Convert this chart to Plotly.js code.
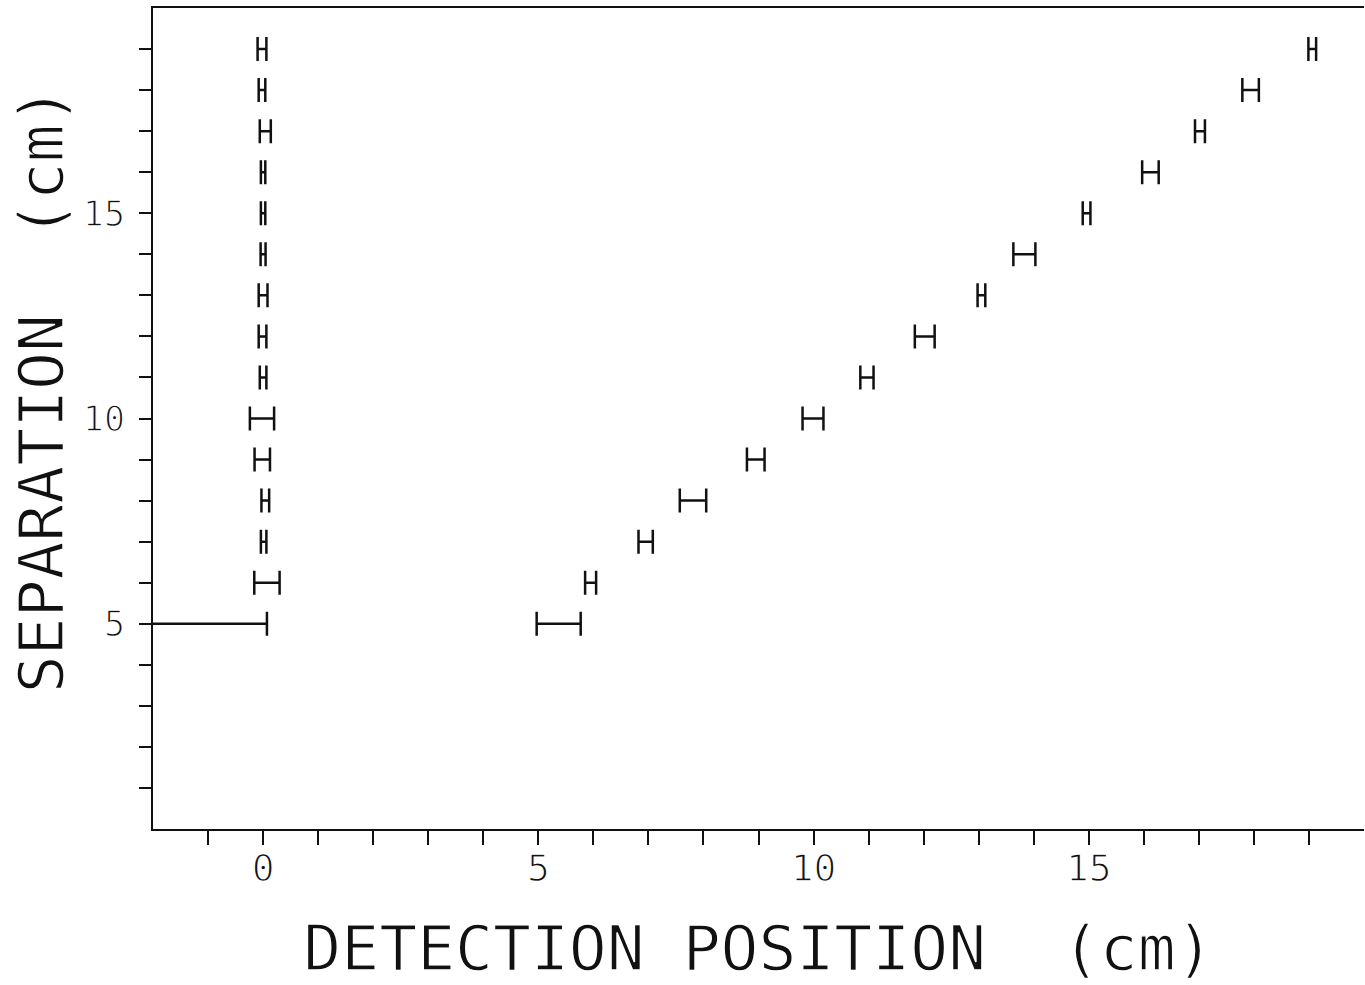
<!DOCTYPE html>
<html>
<head>
<meta charset="utf-8">
<script src="https://cdn.plot.ly/plotly-3.0.1.min.js"></script>
<style>
  html, body { margin: 0; padding: 0; background: #fff; }
  #plot { width: 1365px; height: 985px; }
  /* thin the glyph strokes for a pen-plotter look */
  #plot text { stroke: #fff; stroke-width: 1.4px; }
</style>
</head>
<body>
<div id="plot"></div>
<script>
// Separation values (cm), one per measured pair
const separation = [5, 6, 7, 8, 9, 10, 11, 12, 13, 14, 15, 16, 17, 18, 19];

// Detected position of the fixed source (cm) and its half-spread
const fixedPos    = [-1.23, 0.07, 0.01, 0.04, -0.015, -0.02, 0.00, -0.01, 0.00, 0.00, 0.00, 0.00, 0.04, -0.02, -0.02];
const fixedSpread = [1.30, 0.23, 0.05, 0.07, 0.14, 0.22, 0.06, 0.07, 0.08, 0.045, 0.04, 0.04, 0.10, 0.06, 0.08];

// Detected position of the moving source (cm) and its half-spread
const movingPos    = [5.37, 5.95, 6.95, 7.81, 8.95, 9.99, 10.97, 12.02, 13.05, 13.83, 14.96, 16.12, 17.02, 17.94, 19.06];
const movingSpread = [0.40, 0.10, 0.13, 0.24, 0.16, 0.19, 0.12, 0.18, 0.07, 0.20, 0.07, 0.15, 0.09, 0.15, 0.07];

// Labelled ticks
const xTickVals = [0, 5, 10, 15];
const yTickVals = [5, 10, 15];

const xTitle = 'DETECTION POSITION\u00a0\u00a0(cm)';
const yTitle = 'SEPARATION\u00a0\u00a0(cm)';

const ink = '#111';
const font = 'DejaVu Sans Mono, monospace';

function minorTicks(lo, hi) {
  const out = [];
  for (let v = lo; v <= hi; v++) out.push(v);
  return out;
}

function hBars(xs, spreads) {
  return {
    type: 'scatter',
    mode: 'markers',
    x: xs,
    y: separation,
    cliponaxis: false,
    hoverinfo: 'skip',
    showlegend: false,
    marker: { size: 1, color: 'rgba(0,0,0,0)' },
    error_x: {
      type: 'data',
      array: spreads,
      visible: true,
      color: ink,
      thickness: 2.5,
      width: 12
    }
  };
}

const data = [hBars(fixedPos, fixedSpread), hBars(movingPos, movingSpread)];

const layout = {
  width: 1365,
  height: 985,
  margin: { l: 153, r: 1, t: 8, b: 156 },
  paper_bgcolor: '#fff',
  plot_bgcolor: '#fff',
  showlegend: false,
  font: { family: font, color: ink },
  xaxis: {
    range: [-2, 20],
    showgrid: false,
    zeroline: false,
    showline: true,
    linecolor: ink,
    linewidth: 2,
    mirror: true,
    ticks: 'outside',
    ticklen: 14,
    tickwidth: 2,
    tickcolor: ink,
    tickmode: 'array',
    tickvals: xTickVals,
    ticktext: xTickVals.map(String),
    tickfont: { family: font, size: 38, color: ink },
    ticklabelstandoff: -10,
    minor: {
      tickmode: 'array',
      tickvals: minorTicks(-1, 19),
      ticks: 'outside',
      ticklen: 14,
      tickwidth: 2,
      tickcolor: ink,
      showgrid: false
    },
    title: {
      text: xTitle,
      font: { family: font, size: 63, color: ink },
      standoff: 57
    }
  },
  yaxis: {
    range: [0, 20],
    showgrid: false,
    zeroline: false,
    showline: true,
    linecolor: ink,
    linewidth: 2,
    ticks: 'outside',
    ticklen: 12,
    tickwidth: 2,
    tickcolor: ink,
    tickmode: 'array',
    tickvals: yTickVals,
    ticktext: yTickVals.map(String),
    tickfont: { family: font, size: 35, color: ink },
    ticklabelstandoff: 7,
    minor: {
      tickmode: 'array',
      tickvals: minorTicks(1, 19),
      ticks: 'outside',
      ticklen: 12,
      tickwidth: 2,
      tickcolor: ink,
      showgrid: false
    }
  },
  // vertical axis title, placed to the left of the tick labels
  annotations: [{
    text: yTitle,
    textangle: -90,
    xref: 'paper',
    yref: 'paper',
    x: -0.092,
    y: 0.535,
    xanchor: 'center',
    yanchor: 'middle',
    showarrow: false,
    font: { family: font, size: 63, color: ink }
  }]
};

Plotly.newPlot('plot', data, layout, { staticPlot: true, displayModeBar: false });
</script>
</body>
</html>
